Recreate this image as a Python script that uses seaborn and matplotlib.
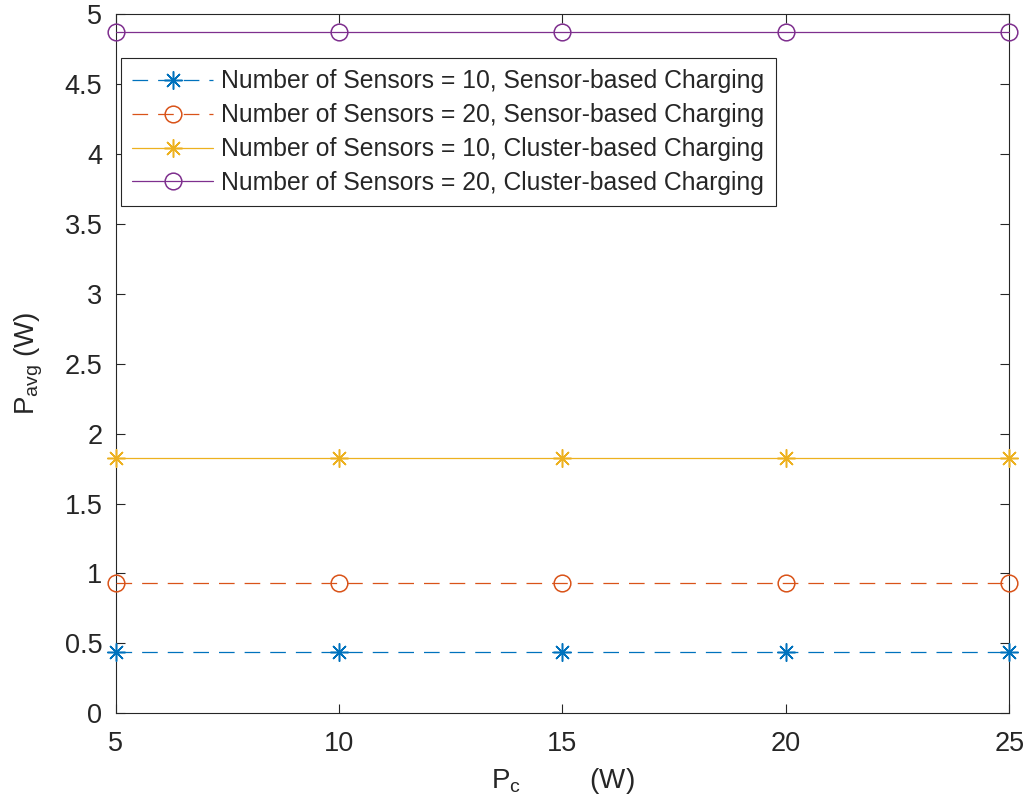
import matplotlib
matplotlib.use("Agg")
import matplotlib.pyplot as plt
import seaborn as sns
import pandas as pd

pc_values = [5, 10, 15, 20, 25]
s10_sensor = [0.44, 0.44, 0.44, 0.44, 0.44]
s20_sensor = [0.933, 0.933, 0.933, 0.933, 0.933]
s10_cluster = [1.826, 1.826, 1.826, 1.826, 1.826]
s20_cluster = [4.869, 4.869, 4.869, 4.869, 4.869]
labels = ["Number of Sensors = 10, Sensor-based Charging",
          "Number of Sensors = 20, Sensor-based Charging",
          "Number of Sensors = 10, Cluster-based Charging",
          "Number of Sensors = 20, Cluster-based Charging"]
x_ticks = [5, 10, 15, 20, 25]
y_ticks = [0, 0.5, 1, 1.5, 2, 2.5, 3, 3.5, 4, 4.5, 5]
y_tick_labels = ["0", "0.5", "1", "1.5", "2", "2.5", "3", "3.5", "4", "4.5", "5"]

sns.set_theme(style="ticks")
plt.rcParams['font.family'] = ['Liberation Sans', 'DejaVu Sans']
plt.rcParams['mathtext.fontset'] = 'custom'
plt.rcParams['mathtext.rm'] = 'Liberation Sans'
plt.rcParams['mathtext.it'] = 'Liberation Sans'

colors = ["#0072BD", "#D95319", "#EDB120", "#7E2F8E"]
markers = [(8, 2, 0), "o", (8, 2, 0), "o"]
msizes = [13, 12, 13, 12]
dashed = [True, True, False, False]
series = [s10_sensor, s20_sensor, s10_cluster, s20_cluster]

fig = plt.figure(figsize=(10.28, 8.10), dpi=100)
ax = fig.add_axes([0.1125, 0.1194, 0.8693, 0.8633])

for vals, lab, c, m, ms, d in zip(series, labels, colors, markers, msizes, dashed):
    df = pd.DataFrame({"Pc": pc_values, "Pavg": vals})
    sns.lineplot(data=df, x="Pc", y="Pavg", ax=ax, color=c, label=lab,
                 marker=m, markersize=ms, markerfacecolor="none",
                 markeredgecolor=c, markeredgewidth=1.1, linewidth=0.9,
                 clip_on=False)
    line = ax.get_lines()[-1]
    if d:
        line.set_dashes((12.5, 8))
    line.set_zorder(3)

ax.set_xlim(5, 25)
ax.set_ylim(0, 5)
ax.set_xticks(x_ticks)
ax.set_xticklabels([str(t) for t in x_ticks])
ax.set_yticks(y_ticks)
ax.set_yticklabels(y_tick_labels)
ax.tick_params(direction="in", length=6.7, width=0.8, colors="#262626",
               labelsize=19.5, top=True, right=True)
ax.tick_params(axis="x", pad=13)
ax.tick_params(axis="y", pad=9.5)
for s in ax.spines.values():
    s.set_visible(True)
    s.set_color("#262626")
    s.set_linewidth(0.8)

ax.set_ylabel(r"$\mathregular{P_{avg}}$ (W)", fontsize=20, color="#262626")
ax.set_xlabel(r"$\mathregular{P_c}$" + " " * 9 + "(W)", fontsize=20, color="#262626")
ax.xaxis.set_label_coords(0.5, -0.075)
ax.yaxis.set_label_coords(-0.079, 0.5)

leg = ax.legend(loc="upper left", bbox_to_anchor=(0.0056, 0.9366), borderaxespad=0,
                fontsize=17.8, frameon=True, fancybox=False, handlelength=3.3,
                handletextpad=0.32, borderpad=0.45, labelspacing=0.4)
leg.get_frame().set_edgecolor("#262626")
leg.get_frame().set_linewidth(0.8)
leg.get_frame().set_alpha(1)

fig.savefig("out.png", dpi=100, facecolor="white")
